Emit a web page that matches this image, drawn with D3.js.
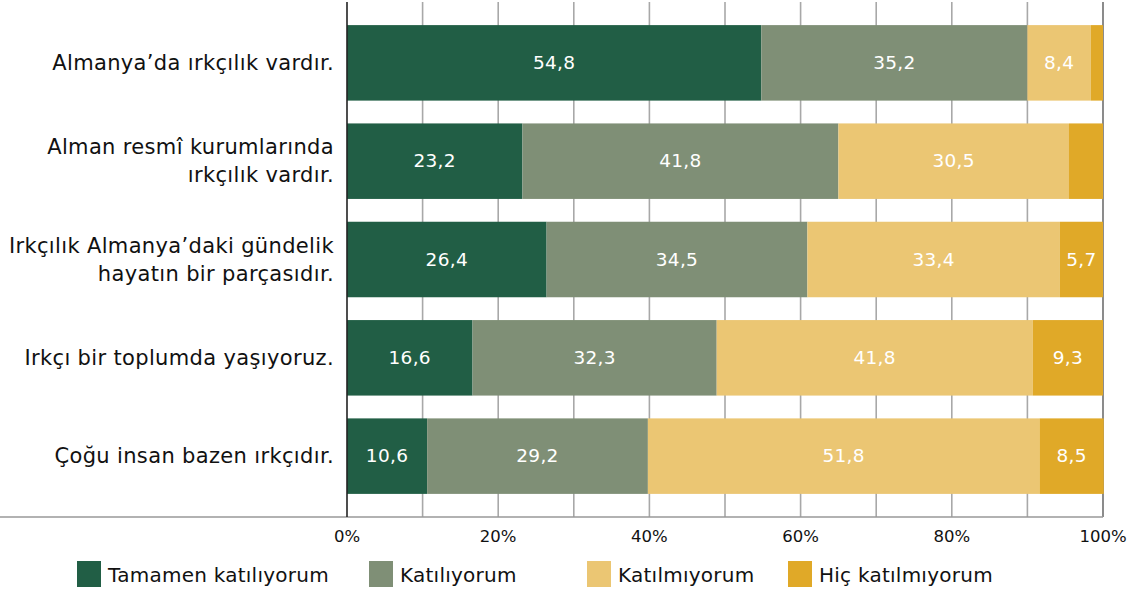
<!DOCTYPE html>
<html><head><meta charset="utf-8">
<script src="https://cdn.jsdelivr.net/npm/d3@7"></script>
<style>
body{margin:0;background:#fff;}
text{font-family:"DejaVu Sans",sans-serif;}
</style></head>
<body><svg id="c" width="1129" height="594"></svg>
<script>
const categories = [
  ["Almanya’da ırkçılık vardır."],
  ["Alman resmî kurumlarında", "ırkçılık vardır."],
  ["Irkçılık Almanya’daki gündelik", "hayatın bir parçasıdır."],
  ["Irkçı bir toplumda yaşıyoruz."],
  ["Çoğu insan bazen ırkçıdır."]
];
const seriesNames = ["Tamamen katılıyorum", "Katılıyorum", "Katılmıyorum", "Hiç katılmıyorum"];
const tamamen = [54.8, 23.2, 26.4, 16.6, 10.6];
const katiliyorum = [35.2, 41.8, 34.5, 32.3, 29.2];
const katilmiyorum = [8.4, 30.5, 33.4, 41.8, 51.8];
const hic = [1.6, 4.5, 5.7, 9.3, 8.5];
const tickValues = [0, 20, 40, 60, 80, 100];
const colors = ["#215e45", "#7f8f76", "#ebc673", "#e0a928"];

const svg = d3.select("#c");
const x = d3.scaleLinear().domain([0, 100]).range([347, 1103]);
const y = d3.scaleBand().domain(d3.range(categories.length)).range([2, 517]).paddingInner(0.232).paddingOuter(0.235);

// gridlines
svg.append("g").selectAll("line").data(d3.range(10, 101, 10)).join("line")
  .attr("x1", d => x(d)).attr("x2", d => x(d)).attr("y1", 2).attr("y2", 517)
  .attr("stroke", d => d === 100 ? "#6f6f6f" : "#a8a8a8").attr("stroke-width", 1.6);

const series = [tamamen, katiliyorum, katilmiyorum, hic];
const fmt = v => d3.format(".1f")(v).replace(".", ",");
categories.forEach((c, i) => {
  let acc = 0;
  series.forEach((s, k) => {
    const v = s[i];
    const g = svg.append("g");
    g.append("rect").attr("x", x(acc)).attr("width", x(acc + v) - x(acc))
      .attr("y", y(i)).attr("height", y.bandwidth()).attr("fill", colors[k]);
    if (v >= 5) {
      g.append("text").attr("x", x(acc + v / 2)).attr("y", y(i) + y.bandwidth() / 2 - 0.5)
        .attr("text-anchor", "middle").attr("dominant-baseline", "central")
        .attr("fill", "#fff").attr("font-size", 18.5).attr("letter-spacing", 0.3).text(fmt(v));
    }
    acc += v;
  });
  const t = svg.append("text").attr("text-anchor", "end").attr("font-size", 21).attr("fill", "#111").attr("letter-spacing", 0.35);
  const lh = 28;
  const cy = y(i) + y.bandwidth() / 2 - (c.length - 1) * lh / 2;
  c.forEach((line, j) => {
    t.append("tspan").attr("x", 334).attr("y", cy + j * lh).attr("dominant-baseline", "central").text(line);
  });
});

// axes lines
svg.append("line").attr("x1", 0).attr("x2", 1103).attr("y1", 517).attr("y2", 517).attr("stroke", "#999").attr("stroke-width", 1.6);
svg.append("line").attr("x1", x(0)).attr("x2", x(0)).attr("y1", 2).attr("y2", 517).attr("stroke", "#222").attr("stroke-width", 1.6);

// tick labels
svg.append("g").selectAll("text").data(tickValues).join("text")
  .attr("x", d => x(d)).attr("y", 536).attr("text-anchor", "middle").attr("dominant-baseline", "central")
  .attr("font-size", 16.5).attr("fill", "#111").text(d => d + "%");

// legend
const legX = [77, 369, 587, 788];
seriesNames.forEach((n, k) => {
  svg.append("rect").attr("x", legX[k]).attr("y", 561).attr("width", 24).attr("height", 26).attr("fill", colors[k]);
  svg.append("text").attr("x", legX[k] + 31).attr("y", 575).attr("dominant-baseline", "central")
    .attr("font-size", 20).attr("letter-spacing", 0.25).attr("fill", "#111").text(n);
});
</script></body></html>
